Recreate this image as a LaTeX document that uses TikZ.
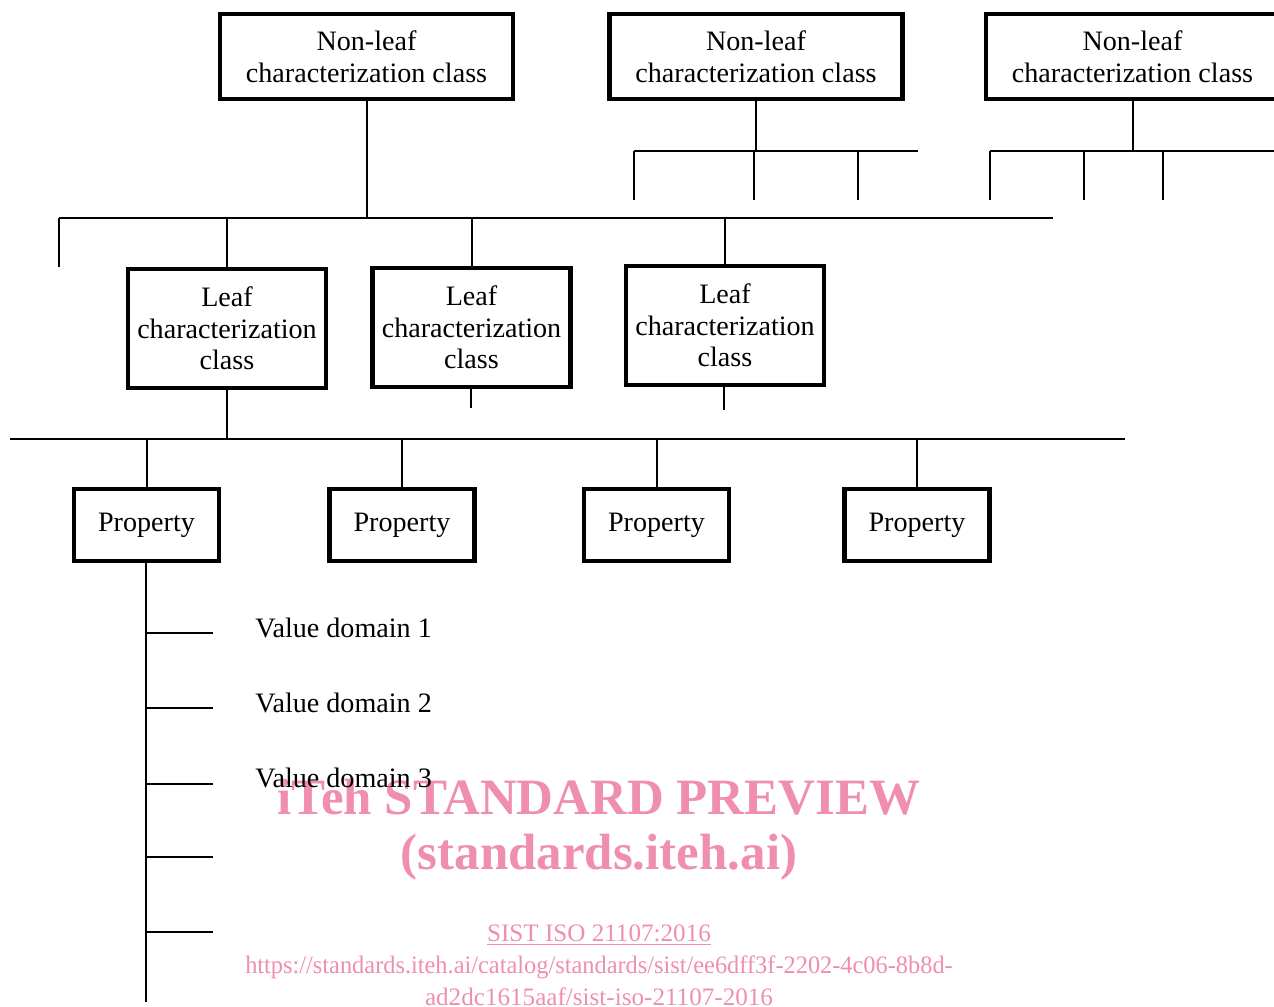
\documentclass[tikz,border=0pt]{standalone}
\usepackage{fontspec}
\setmainfont{Liberation Serif}
\usetikzlibrary{positioning}
\definecolor{wmpink}{RGB}{239,143,173}

\begin{document}
\begin{tikzpicture}[x=0.02cm,y=-0.02cm,
    box/.style={draw,line width=0.09cm,align=center,inner sep=0pt,
      font=\fontsize{16}{18}\selectfont},
    nonleaf/.style={box,minimum width=5.86cm,minimum height=1.70cm},
    leaf/.style={box,minimum width=3.96cm,minimum height=2.38cm},
    prop/.style={box,minimum width=2.90cm,minimum height=1.44cm},
    wire/.style={line width=0.04cm},
    vdlabel/.style={anchor=west,inner sep=0pt,font=\fontsize{16}{18}\selectfont},
    wmbig/.style={text=wmpink,inner sep=0pt,font=\fontsize{29}{32}\selectfont\bfseries},
    wmsmall/.style={text=wmpink,inner sep=0pt,font=\fontsize{14.3}{16}\selectfont}]
   \useasboundingbox (0,0) rectangle (1274,1007);

   % watermark, behind everything
   \node[wmbig] (wmA) at (599,797) {iTeh STANDARD PREVIEW};
   \node[wmbig] (wmB) at (599,857) {(standards.iteh.ai)};
   \node[wmsmall] (wmC) at (599,935) {\underline{SIST ISO 21107:2016}};
   \node[wmsmall] (wmD) at (599,967) {\scalebox{0.97}[1]{https://standards.iteh.ai/catalog/standards/sist/ee6dff3f-2202-4c06-8b8d-}};
   \node[wmsmall] (wmE) at (599,997) {ad2dc1615aaf/sist-iso-21107-2016};

   % non-leaf classes
   \node[nonleaf] (nl1) at (366.5,56.5) {Non-leaf\\characterization class};
   \node[nonleaf] (nl2) at (756,56.5) {Non-leaf\\characterization class};
   \node[nonleaf] (nl3) at (1132.5,56.5) {Non-leaf\\characterization class};

   % leaf classes
   \node[leaf] (lf1) at (227,328.5) {Leaf\\characterization\\class};
   \node[leaf] (lf2) at (471.5,327.5) {Leaf\\characterization\\class};
   \node[leaf] (lf3) at (725,325.5) {Leaf\\characterization\\class};

   % properties
   \node[prop] (pr1) at (146.5,525) {Property};
   \node[prop] (pr2) at (402,525) {Property};
   \node[prop] (pr3) at (656.5,525) {Property};
   \node[prop] (pr4) at (917,525) {Property};

   % bus under first non-leaf class
   \coordinate (busAw) at (59,218);
   \coordinate (busAe) at (1053,218);
   \coordinate (stubA) at (59,267);
   \draw[wire] (busAw) -- (busAe);
   \draw[wire] (nl1.south) -- (nl1.south |- busAw);
   \draw[wire] (stubA) -- (stubA |- busAw);
   \foreach \n in {lf1,lf2,lf3}
     \draw[wire] (\n.north) -- (\n.north |- busAw);

   % buses under the other two
   \coordinate (busBw) at (634,151);
   \coordinate (busBe) at (918,151);
   \draw[wire] (busBw) -- (busBe);
   \draw[wire] (nl2.south) -- (nl2.south |- busBw);
   \foreach \x [count=\i] in {634,754,858} {
     \coordinate (stubB\i) at (\x,200);
     \draw[wire] (stubB\i) -- (stubB\i |- busBw);
   }
   \coordinate (busCw) at (990,151);
   \coordinate (busCe) at (1280,151);
   \draw[wire] (busCw) -- (busCe);
   \draw[wire] (nl3.south) -- (nl3.south |- busCw);
   \foreach \x [count=\i] in {990,1084,1163} {
     \coordinate (stubC\i) at (\x,200);
     \draw[wire] (stubC\i) -- (stubC\i |- busCw);
   }

   % bus to properties
   \coordinate (busDw) at (10,439);
   \coordinate (busDe) at (1125,439);
   \draw[wire] (busDw) -- (busDe);
   \draw[wire] (lf1.south) -- (lf1.south |- busDw);
   \coordinate (stubL2) at (471,408);
   \coordinate (stubL3) at (724,410);
   \draw[wire] (lf2.south -| stubL2) -- (stubL2);
   \draw[wire] (lf3.south -| stubL3) -- (stubL3);
   \foreach \n in {pr1,pr2,pr3,pr4}
     \draw[wire] (\n.north) -- (\n.north |- busDw);

   % value domains
   \coordinate (vdEnd) at (146,1002);
   \draw[wire] (pr1.south -| vdEnd) -- (vdEnd);
   \foreach \y [count=\i] in {633,708,784,857,932} {
     \coordinate (tick\i) at (213,\y);
     \draw[wire] (vdEnd |- tick\i) -- (tick\i);
   }
   \node[vdlabel] (vd1) at (255,628) {Value domain 1};
   \node[vdlabel] (vd2) at (255,703) {Value domain 2};
   \node[vdlabel] (vd3) at (255,778) {Value domain 3};
\end{tikzpicture}
\end{document}
